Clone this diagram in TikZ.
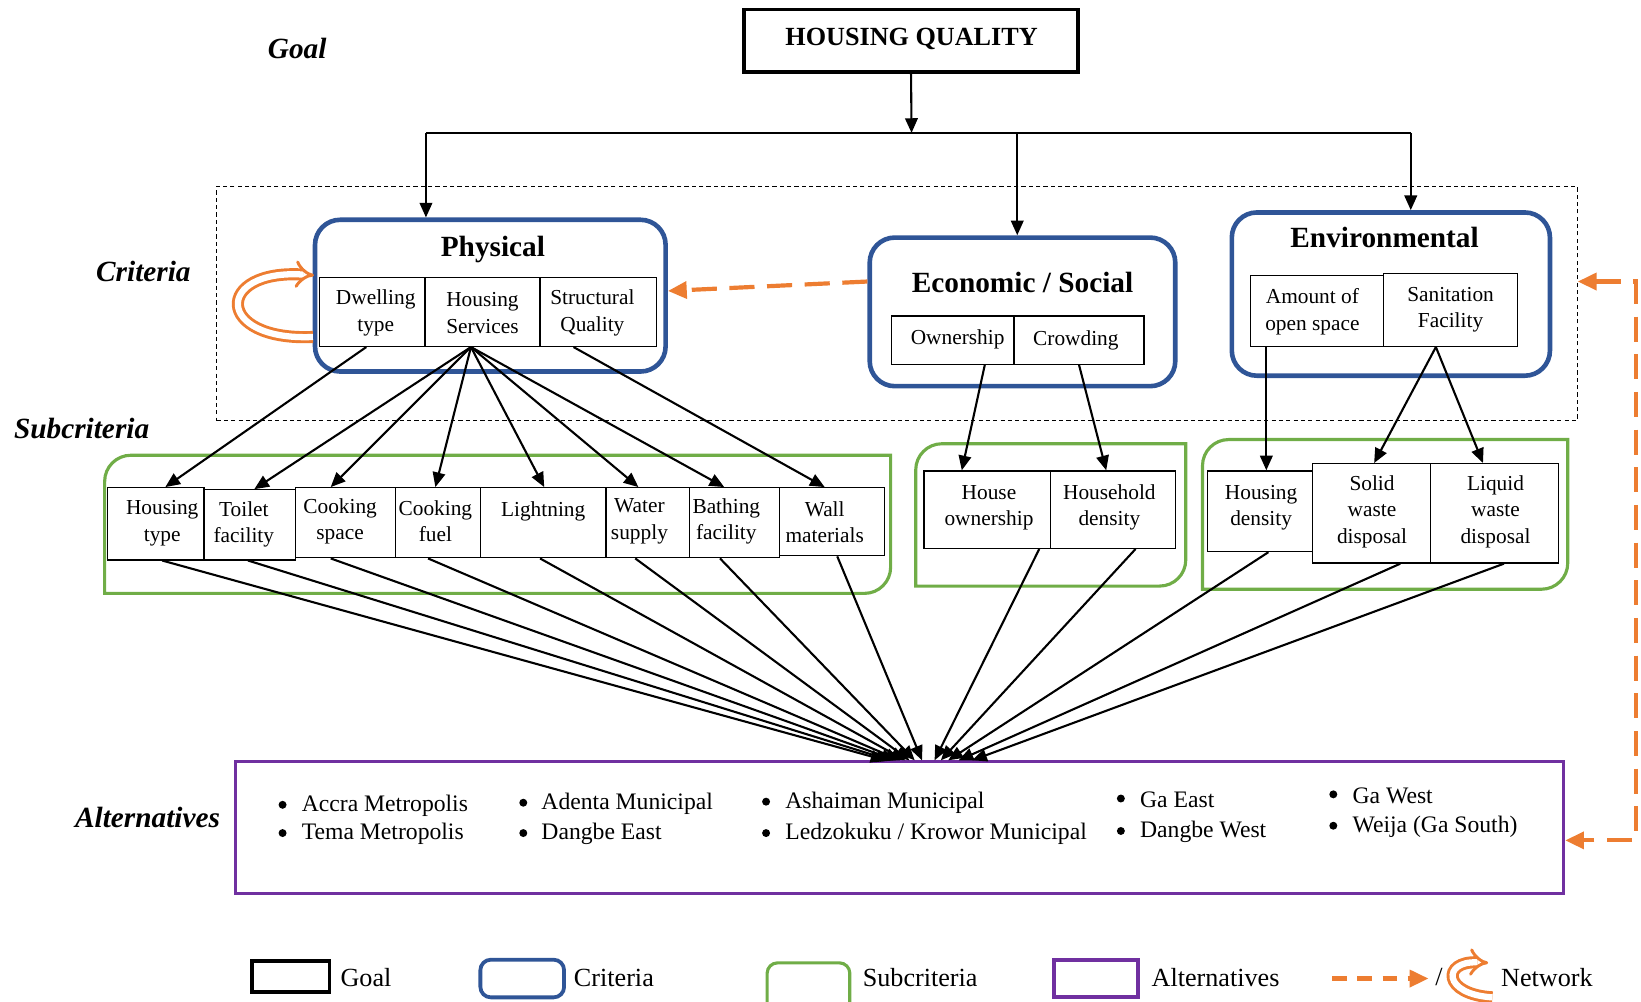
\documentclass[tikz,border=0pt]{standalone}
\usepackage{fontspec}
\setmainfont{Liberation Serif}
\usetikzlibrary{arrows.meta,fit,calc}
\definecolor{critblue}{HTML}{2F5597}
\definecolor{subgreen}{HTML}{70AD47}
\definecolor{altpurple}{HTML}{7030A0}
\definecolor{netorange}{HTML}{ED7D31}
\begin{document}
\begin{tikzpicture}[x=0.5pt,y=-0.5pt,
  level/.style={font=\fontsize{14}{16}\selectfont\bfseries\itshape},
  goalbox/.style={draw, line width=1.7pt, inner sep=0pt},
  critbox/.style={draw=critblue, line width=2.2pt, rounded corners=12pt, inner sep=0pt},
  crittitle/.style={font=\fontsize{14}{16}\selectfont\bfseries},
  cell/.style={draw, line width=0.6pt, inner sep=0pt, fill=white},
  celltxt/.style={inner sep=0pt, align=center, font=\fontsize{10.2}{12.6}\selectfont},
  subgroup/.style={draw=subgreen, line width=1.5pt},
  arr/.style={line width=1pt, -{Triangle[length=7pt,width=6pt]}},
  link/.style={line width=1pt},
  net/.style={draw=netorange, line width=2pt, dash pattern=on 12pt off 6pt},
  nettip/.style={-{Triangle[length=9pt,width=8pt,fill=netorange]}},
  loopline/.style={draw=netorange, line width=1.4pt, double=white, double distance=3pt, -{Implies[scale=1.1]}},
  alt/.style={anchor=west, inner sep=0pt, font=\fontsize{11.3}{13}\selectfont},
  bullet/.style={circle, fill, inner sep=0pt, minimum size=3.8pt},
  legtext/.style={anchor=west, inner sep=0pt, font=\fontsize{12.5}{14}\selectfont},
]
\useasboundingbox (0,0) rectangle (1568,957);

% level labels
\node[level] (lgoal) at (284,46) {Goal};
\node[level] (lcrit) at (137,259) {Criteria};
\node[level] (lsub) at (78,409) {Subcriteria};
\node[level] (lalt) at (141,781) {Alternatives};

% dashed frame round the criteria level
\node[draw, line width=0.5pt, dash pattern=on 2pt off 1.5pt, inner sep=0pt,
      fit={(207,178) (1507,402)}] (critframe) {};

% goal
\node[goalbox, fit={(711,9) (1030,69)}] (goal) {};
\node[font=\fontsize{12.5}{14}\selectfont\bfseries] (goalT) at (871,37) {HOUSING QUALITY};

% criteria
\node[critbox, fit={(301,210) (636,355)}] (phys) {};
\node[crittitle] (physT) at (471,238) {Physical};
\node[cell, fit={(305,265) (406,331)}] (dwell) {};
\node[cell, fit={(406,265) (516,331)}] (hserv) {};
\node[cell, fit={(516,265) (627,331)}] (squal) {};
\node[celltxt] (dwellT) at (359,299) {Dwelling\\type};
\node[celltxt] (hservT) at (461,299) {Housing\\Services};
\node[celltxt] (squalT) at (566,299) {Structural\\Quality};

\node[critbox, fit={(831,227) (1123,369)}] (econ) {};
\node[crittitle] (econT) at (977,270) {Economic / Social};
\node[cell, fit={(852,302) (969,348)}] (own) {};
\node[cell, fit={(969,302) (1093,348)}] (crowd) {};
\node[celltxt] (ownT) at (915,324) {Ownership};
\node[celltxt] (crowdT) at (1028,325) {Crowding};

\node[critbox, fit={(1177,203) (1481,359)}] (env) {};
\node[crittitle] (envT) at (1323,227) {Environmental};
\node[cell, fit={(1195,263) (1322,331)}] (openS) {};
\node[cell, fit={(1322,261) (1450,331)}] (sanit) {};
\node[celltxt] (openST) at (1254,298) {Amount of\\open space};
\node[celltxt] (sanitT) at (1386,296) {Sanitation\\Facility};

% subcriteria groups (rounded at top-left and bottom-right)
\draw[subgroup] (100,567) -- (100,460) arc[start angle=180,end angle=270,radius=25]
  -- (851,435) -- (851,542) arc[start angle=0,end angle=90,radius=25] -- cycle;
\draw[subgroup] (875,560) -- (875,449) arc[start angle=180,end angle=270,radius=25]
  -- (1133,424) -- (1133,535) arc[start angle=0,end angle=90,radius=25] -- cycle;
\draw[subgroup] (1149,563) -- (1149,445) arc[start angle=180,end angle=270,radius=25]
  -- (1498,420) -- (1498,538) arc[start angle=0,end angle=90,radius=25] -- cycle;

\node[cell, fit={(103,466) (195,535)}] (htype) {};
\node[cell, fit={(195,468) (282,535)}] (toilet) {};
\node[cell, fit={(282,466) (378,533)}] (cspace) {};
\node[cell, fit={(378,466) (459,533)}] (cfuel) {};
\node[cell, fit={(459,466) (579,533)}] (light) {};
\node[cell, fit={(579,466) (659,533)}] (water) {};
\node[cell, fit={(659,466) (745,533)}] (bath) {};
\node[cell, fit={(745,466) (845,531)}] (wall) {};
\node[celltxt] (htypeT) at (155,500) {Housing\\type};
\node[celltxt] (toiletT) at (233,501) {Toilet\\facility};
\node[celltxt] (cspaceT) at (325,498) {Cooking\\space};
\node[celltxt] (cfuelT) at (416,498) {Cooking\\fuel};
\node[celltxt] (lightT) at (519,489) {Lightning};
\node[celltxt] (waterT) at (611,498) {Water\\supply};
\node[celltxt] (bathT) at (694,498) {Bathing\\facility};
\node[celltxt] (wallT) at (788,499) {Wall\\materials};

\node[cell, fit={(883,450) (1004,524)}] (hown) {};
\node[cell, fit={(1004,450) (1123,524)}] (hhden) {};
\node[celltxt] (hownT) at (945,485) {House\\ownership};
\node[celltxt] (hhdenT) at (1060,485) {Household\\density};

\node[cell, fit={(1154,450) (1254,527)}] (hden) {};
\node[cell, fit={(1254,443) (1367,538)}] (solid) {};
\node[cell, fit={(1367,443) (1489,538)}] (liquid) {};
\node[celltxt] (hdenT) at (1205,485) {Housing\\density};
\node[celltxt] (solidT) at (1311,489) {Solid\\waste\\disposal};
\node[celltxt] (liquidT) at (1429,489) {Liquid\\waste\\disposal};

% alternatives
\node[draw=altpurple, line width=1.5pt, inner sep=0pt, fit={(225,728) (1494,854)}] (alts) {};
\node[bullet] (b1) at (270,769) {};
\node[bullet] (b2) at (270,796) {};
\node[bullet] (b3) at (500,767) {};
\node[bullet] (b4) at (500,796) {};
\node[bullet] (b5) at (732,766) {};
\node[bullet] (b6) at (732,796) {};
\node[bullet] (b7) at (1071,763) {};
\node[bullet] (b8) at (1071,794) {};
\node[bullet] (b9) at (1274,759) {};
\node[bullet] (b10) at (1274,789) {};
\node[alt] (a1) at (288,770) {Accra Metropolis};
\node[alt] (a2) at (288,797) {Tema Metropolis};
\node[alt] (a3) at (517,768) {Adenta Municipal};
\node[alt] (a4) at (517,797) {Dangbe East};
\node[alt] (a5) at (750,767) {Ashaiman Municipal};
\node[alt] (a6) at (750,797) {Ledzokuku / Krowor Municipal};
\node[alt] (a7) at (1089,764) {Ga East};
\node[alt] (a8) at (1089,795) {Dangbe West};
\node[alt] (a9) at (1292,760) {Ga West};
\node[alt] (a10) at (1292,790) {Weija (Ga South)};

% goal to criteria
\coordinate (hub) at (871,127);
\coordinate (hubL) at (407,127);
\coordinate (hubE) at (972,127);
\coordinate (hubR) at (1348,127);
\draw[arr] (goal.south) -- (hub);
\draw[link] (hubL) -- (hubR);
\draw[arr] (hubL) -- (hubL |- phys.north);
\draw[arr] (hubE) -- (hubE |- econ.north);
\draw[arr] (hubR) -- (hubR |- env.north);

% criteria to subcriteria
\draw[arr] (dwell.south -| 350,0) -- (htype.north -| 158,0);
\draw[arr] (hserv.south -| 450,0) -- (toilet.north -| 243,0);
\draw[arr] (hserv.south -| 450,0) -- (cspace.north -| 316,0);
\draw[arr] (hserv.south -| 450,0) -- (cfuel.north -| 416,0);
\draw[arr] (hserv.south -| 450,0) -- (light.north -| 520,0);
\draw[arr] (hserv.south -| 450,0) -- (water.north -| 610,0);
\draw[arr] (hserv.south -| 450,0) -- (bath.north -| 692,0);
\draw[arr] (squal.south -| 548,0) -- (wall.north -| 788,0);
\draw[arr] (own.south -| 941,0) -- (hown.north -| 919,0);
\draw[arr] (crowd.south -| 1031,0) -- (hhden.north -| 1057,0);
\draw[arr] (openS.south -| 1210,0) -- (hden.north -| 1210,0);
\draw[arr] (sanit.south -| 1372,0) -- (solid.north -| 1313,0);
\draw[arr] (sanit.south -| 1372,0) -- (liquid.north -| 1417,0);

% subcriteria to alternatives
\draw[arr] (htype.south -| 155,0) -- (alts.north -| 846,0);
\draw[arr] (toilet.south -| 237,0) -- (alts.north -| 851,0);
\draw[arr] (cspace.south -| 316,0) -- (alts.north -| 856,0);
\draw[arr] (cfuel.south -| 409,0) -- (alts.north -| 860,0);
\draw[arr] (light.south -| 516,0) -- (alts.north -| 865,0);
\draw[arr] (water.south -| 607,0) -- (alts.north -| 869,0);
\draw[arr] (bath.south -| 688,0) -- (alts.north -| 874,0);
\draw[arr] (wall.south -| 800,0) -- (alts.north -| 881,0);
\draw[arr] (hown.south -| 993,0) -- (alts.north -| 893,0);
\draw[arr] (hhden.south -| 1085,0) -- (alts.north -| 899,0);
\draw[arr] (hden.south -| 1212,0) -- (alts.north -| 906,0);
\draw[arr] (solid.south -| 1338,0) -- (alts.north -| 916,0);
\draw[arr] (liquid.south -| 1437,0) -- (alts.north -| 929,0);

% network (feedback) links
\draw[net, nettip] (econ.west |- 0,269) -- (phys.east |- 0,278);
\coordinate (nTop) at (1563,269);
\coordinate (nBot) at (1563,803);
\draw[net, {Triangle[length=9pt,width=8pt,fill=netorange]}-{Triangle[length=9pt,width=8pt,fill=netorange]}]
  (critframe.east |- nTop) -- (nTop) -- (nBot) -- (alts.east |- nBot);
\coordinate (loopA) at (299,322);
\coordinate (loopB) at (300,263);
\draw[loopline] (loopA) .. controls (205,326) and (205,257) .. (loopB);

% legend
\node[goalbox, fit={(241,918) (315,948)}] (lgGoal) {};
\node[legtext] (lgGoalT) at (325,934) {Goal};
\node[critbox, rounded corners=5pt, line width=1.8pt, fit={(459,917) (539,953)}] (lgCrit) {};
\node[legtext] (lgCritT) at (548,934) {Criteria};
\node[draw=subgreen, line width=1.5pt, rounded corners=5pt, inner sep=0pt, fit={(733,920) (812,968)}] (lgSub) {};
\node[legtext] (lgSubT) at (824,934) {Subcriteria};
\node[draw=altpurple, line width=1.8pt, inner sep=0pt, fit={(1007,917) (1087,953)}] (lgAlt) {};
\node[legtext] (lgAltT) at (1100,934) {Alternatives};
\coordinate (lgNetA) at (1273,935);
\coordinate (lgNetB) at (1365,935);
\draw[net, dash pattern=on 7pt off 5pt, nettip] (lgNetA) -- (lgNetB);
\node[legtext] (lgSlash) at (1371,934) {/};
\coordinate (lgLoopA) at (1426,953);
\coordinate (lgLoopB) at (1422,920);
\draw[loopline] (lgLoopA) .. controls (1378,950) and (1378,918) .. (lgLoopB);
\node[legtext] (lgNetT) at (1434,934) {Network};
\end{tikzpicture}
\end{document}
